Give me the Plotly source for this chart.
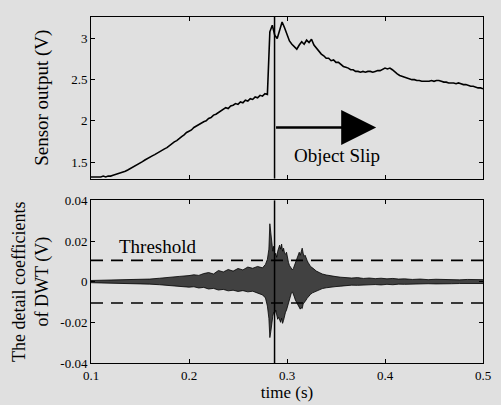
import numpy as np
import plotly.graph_objects as go

# ---------------- data ----------------
sensor_t0 = 0.1
sensor_dt = 0.0025
sensor_v = [
    1.32, 1.32, 1.32, 1.32, 1.32, 1.33, 1.32, 1.33, 1.33,
    1.34, 1.35, 1.355, 1.365, 1.38, 1.39, 1.405, 1.42, 1.435, 1.455,
    1.47, 1.49, 1.505, 1.525, 1.545, 1.555, 1.575, 1.59, 1.61, 1.625,
    1.645, 1.66, 1.675, 1.70, 1.72, 1.745, 1.76, 1.79, 1.81, 1.83,
    1.86, 1.875, 1.89, 1.92, 1.94, 1.95, 1.97, 1.99, 2.00, 2.03,
    2.04, 2.07, 2.08, 2.10, 2.12, 2.13, 2.16, 2.15, 2.18, 2.19,
    2.21, 2.20, 2.23, 2.22, 2.25, 2.24, 2.27, 2.26, 2.29, 2.28,
    2.31, 2.30, 2.33, 2.32,
    3.08, 3.16, 3.04, 3.00, 3.09, 3.20, 3.13, 3.05, 2.97, 2.93,
    2.90, 2.87, 2.92, 2.96, 2.93, 2.98, 2.95, 2.99, 2.92, 2.88,
    2.84, 2.81, 2.79, 2.76, 2.76, 2.73, 2.74, 2.71, 2.71, 2.68,
    2.66, 2.65, 2.64, 2.62, 2.62, 2.60, 2.60, 2.59, 2.60, 2.59,
    2.60, 2.60, 2.59, 2.60, 2.61, 2.61, 2.63, 2.64, 2.63, 2.64,
    2.62, 2.59, 2.57, 2.55, 2.54, 2.53, 2.52, 2.51, 2.50, 2.50,
    2.49, 2.49, 2.48, 2.48, 2.48, 2.48, 2.49, 2.48, 2.49, 2.49,
    2.48, 2.47, 2.47, 2.46, 2.46, 2.46, 2.45, 2.46, 2.45, 2.44,
    2.44, 2.43, 2.42, 2.42, 2.41, 2.40, 2.40, 2.39,
]
sensor_t = [round(sensor_t0 + i * sensor_dt, 4) for i in range(len(sensor_v))]

dwt_t = [
    0.100, 0.110, 0.120, 0.130, 0.140, 0.150, 0.160, 0.170, 0.180, 0.190,
    0.200, 0.205, 0.210, 0.215, 0.220, 0.225, 0.230, 0.235, 0.240, 0.245,
    0.250, 0.255, 0.260, 0.265, 0.270, 0.275, 0.278, 0.280, 0.2815, 0.2825,
    0.2835, 0.2845, 0.2855, 0.2865, 0.2875, 0.2885, 0.2895, 0.2905, 0.2915, 0.2925,
    0.2935, 0.2945, 0.2955, 0.2965, 0.2975, 0.2985, 0.2995, 0.3005, 0.3015, 0.3025,
    0.3035, 0.3045, 0.3055, 0.3065, 0.3075, 0.3085, 0.3095, 0.3105, 0.3115, 0.3125,
    0.3135, 0.3145, 0.3155, 0.3165, 0.3175, 0.3185, 0.3195, 0.3205, 0.3215, 0.3225,
    0.324, 0.326, 0.328, 0.330, 0.333, 0.336, 0.340, 0.345, 0.350, 0.355,
    0.360, 0.366, 0.372, 0.378, 0.384, 0.390, 0.396, 0.402, 0.408, 0.414,
    0.420, 0.428, 0.436, 0.444, 0.452, 0.460, 0.468, 0.476, 0.484, 0.492,
    0.500,
]
dwt_hi = [
    0.0006, 0.0007, 0.0006, 0.0008, 0.0009, 0.0011, 0.0013, 0.0017, 0.0020, 0.0026,
    0.0030, 0.0034, 0.0031, 0.0040, 0.0045, 0.0038, 0.0055, 0.0048, 0.0060, 0.0052,
    0.0065, 0.0058, 0.0072, 0.0066, 0.0075, 0.0068, 0.0085, 0.0110, 0.0160, 0.0285,
    0.0240, 0.0190, 0.0150, 0.0175, 0.0130, 0.0140, 0.0120, 0.0150, 0.0165, 0.0180,
    0.0160, 0.0185, 0.0150, 0.0165, 0.0140, 0.0135, 0.0145, 0.0110, 0.0095, 0.0080,
    0.0070, 0.0060, 0.0058, 0.0065, 0.0080, 0.0095, 0.0105, 0.0120, 0.0135, 0.0145,
    0.0130, 0.0155, 0.0165, 0.0140, 0.0125, 0.0130, 0.0110, 0.0105, 0.0095, 0.0085,
    0.0075, 0.0068, 0.0060, 0.0052, 0.0045, 0.0038, 0.0033, 0.0028, 0.0025, 0.0022,
    0.0020, 0.0018, 0.0020, 0.0016, 0.0018, 0.0015, 0.0017, 0.0014, 0.0016, 0.0013,
    0.0014, 0.0011, 0.0013, 0.0010, 0.0012, 0.0010, 0.0011, 0.0009, 0.0011, 0.0009,
    0.0010,
]
dwt_lo = [
    -0.0005, -0.0006, -0.0007, -0.0007, -0.0009, -0.0010, -0.0012, -0.0015, -0.0019, -0.0024,
    -0.0027, -0.0025, -0.0031, -0.0028, -0.0036, -0.0033, -0.0041, -0.0038, -0.0045, -0.0042,
    -0.0048, -0.0044, -0.0050, -0.0047, -0.0058, -0.0065, -0.0080, -0.0120, -0.0180, -0.0275,
    -0.0245, -0.0200, -0.0170, -0.0150, -0.0155, -0.0140, -0.0165, -0.0185, -0.0175, -0.0190,
    -0.0200, -0.0180, -0.0205, -0.0190, -0.0160, -0.0150, -0.0140, -0.0120, -0.0100, -0.0085,
    -0.0070, -0.0055, -0.0050, -0.0060, -0.0075, -0.0090, -0.0100, -0.0110, -0.0120, -0.0125,
    -0.0135, -0.0128, -0.0132, -0.0110, -0.0105, -0.0095, -0.0090, -0.0082, -0.0075, -0.0070,
    -0.0062, -0.0055, -0.0050, -0.0045, -0.0040, -0.0034, -0.0030, -0.0026, -0.0024, -0.0022,
    -0.0019, -0.0017, -0.0018, -0.0016, -0.0017, -0.0014, -0.0016, -0.0013, -0.0015, -0.0012,
    -0.0013, -0.0011, -0.0012, -0.0010, -0.0011, -0.0009, -0.0010, -0.0009, -0.0010, -0.0008,
    -0.0009,
]
assert len(dwt_t) == len(dwt_hi) == len(dwt_lo)

slip_time = 0.2873
threshold = 0.0105
arrow_end = 0.391
arrow_level = 1.92

top_yticks = [1.5, 2, 2.5, 3]
top_yticklabels = ["1.5", "2", "2.5", "3"]
bot_yticks = [-0.04, -0.02, 0, 0.02, 0.04]
bot_yticklabels = ["-0.04", "-0.02", "0", "0.02", "0.04"]
xticks = [0.1, 0.2, 0.3, 0.4, 0.5]
xticklabels = ["0.1", "0.2", "0.3", "0.4", "0.5"]

# ---------------- figure ----------------
FONT = "Liberation Serif"
BG = "#e0e0e0"
fig = go.Figure()

fig.add_trace(go.Scatter(x=sensor_t, y=sensor_v, mode="lines",
                         line=dict(color="black", width=1.6),
                         xaxis="x", yaxis="y", showlegend=False))

fig.add_trace(go.Scatter(x=dwt_t, y=dwt_hi, mode="lines",
                         line=dict(color="black", width=0.8),
                         xaxis="x2", yaxis="y2", showlegend=False))
fig.add_trace(go.Scatter(x=dwt_t, y=dwt_lo, mode="lines", fill="tonexty",
                         fillcolor="rgba(25,25,25,0.8)",
                         line=dict(color="black", width=0.8),
                         xaxis="x2", yaxis="y2", showlegend=False))

axis_common = dict(showline=True, linecolor="black", linewidth=1, mirror="ticks",
                   ticks="inside", ticklen=4, tickcolor="black", showgrid=False,
                   zeroline=False, tickfont=dict(family=FONT, size=13, color="black"))

fig.update_layout(
    width=501, height=405,
    margin=dict(l=91, r=10, t=10, b=42),
    paper_bgcolor=BG, plot_bgcolor=BG,
    font=dict(family=FONT, color="black"),
    xaxis=dict(domain=[0, 1], anchor="y", range=[0.1, 0.5], tickvals=xticks,
               showticklabels=False, **axis_common),
    yaxis=dict(domain=[0.533, 1], anchor="x", range=[1.3, 3.26],
               tickvals=top_yticks, ticktext=top_yticklabels,
               title=dict(text="Sensor output (V)", font=dict(family=FONT, size=19), standoff=17),
               **axis_common),
    xaxis2=dict(domain=[0, 1], anchor="y2", range=[0.1, 0.5], tickvals=xticks,
                ticktext=xticklabels,
                title=dict(text="time (s)", font=dict(family=FONT, size=17), standoff=0),
                **axis_common),
    yaxis2=dict(domain=[0, 0.470], anchor="x2", range=[-0.04, 0.04],
                tickvals=bot_yticks, ticktext=bot_yticklabels,
                title=dict(text="The detail coefficients<br>of DWT (V)",
                           font=dict(family=FONT, size=18), standoff=6),
                **axis_common),
)

# slip marker lines
fig.add_shape(type="line", xref="x", yref="y domain", x0=slip_time, x1=slip_time,
              y0=0, y1=1, line=dict(color="black", width=1.5))
fig.add_shape(type="line", xref="x2", yref="y2 domain", x0=slip_time, x1=slip_time,
              y0=0, y1=1, line=dict(color="black", width=1.5))

# thresholds
for th in (threshold, -threshold):
    fig.add_shape(type="line", xref="x2 domain", yref="y2", x0=0, x1=1, y0=th, y1=th,
                  line=dict(color="black", width=1.6, dash="12px,8px"))

# arrow
fig.add_annotation(x=arrow_end, y=arrow_level, ax=slip_time, ay=arrow_level,
                   xref="x", yref="y", axref="x", ayref="y", text="",
                   showarrow=True, arrowhead=2, arrowsize=2.8, arrowwidth=2.5,
                   arrowcolor="black")
fig.add_annotation(x=0.351, y=1.585, xref="x", yref="y", text="Object Slip",
                   showarrow=False, font=dict(family=FONT, size=19, color="black"))
fig.add_annotation(x=0.168, y=0.0175, xref="x2", yref="y2", text="Threshold",
                   showarrow=False, font=dict(family=FONT, size=19, color="black"))

fig.write_html("out.html", config={"displayModeBar": False},
               post_script="document.body.style.margin='0';document.body.style.background='%s';" % BG)
